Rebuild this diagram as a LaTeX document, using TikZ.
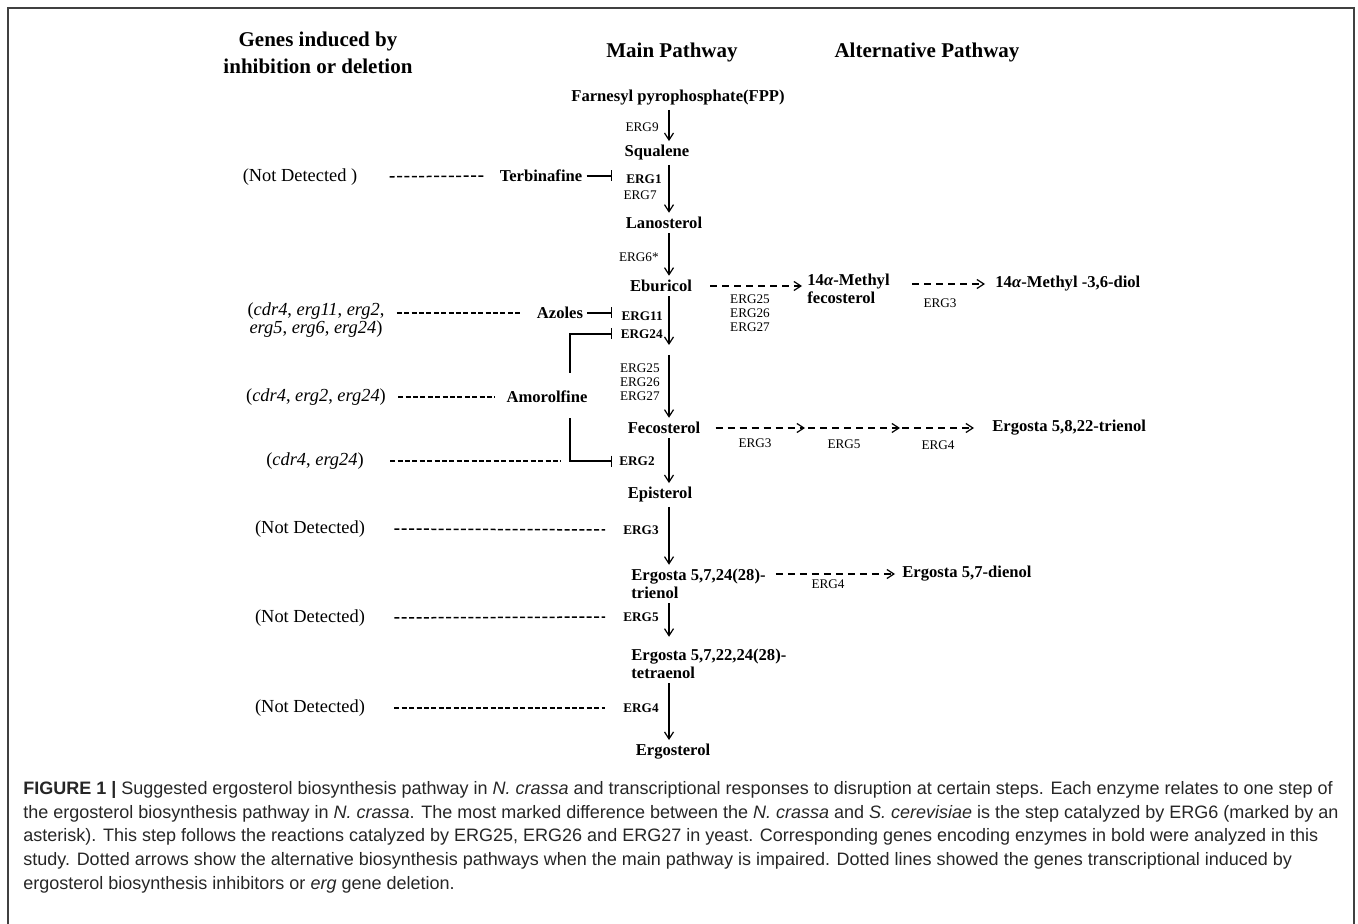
\documentclass[tikz,border=0pt]{standalone}
\usepackage{fontspec}
\setmainfont{Liberation Serif}
\newfontfamily\capfont{Liberation Sans}
\usetikzlibrary{arrows.meta, calc, positioning}

\begin{document}
\begin{tikzpicture}[x=0.5pt, y=-0.5pt,
  head/.style={font=\bfseries\fontsize{10.5}{13.5}\selectfont, align=center},
  mol/.style={font=\bfseries\fontsize{8.3}{9}\selectfont, inner sep=2pt, align=left},
  enz/.style={font=\fontsize{6.6}{7}\selectfont, inner sep=1pt, align=center},
  benz/.style={font=\bfseries\fontsize{6.6}{7}\selectfont, inner sep=1pt},
  gene/.style={font=\fontsize{9.2}{9.2}\selectfont, inner sep=2pt, align=center},
  captext/.style={font=\capfont\fontsize{9}{11.85}\selectfont, align=left, inner sep=0pt, text=black!85},
  conv/.style={-{Straight Barb[length=3.5pt, width=4.5pt]}, line width=0.6pt},
  alt/.style={conv, dash pattern=on 3.5pt off 2.5pt},
  inh/.style={-{Bar[width=5.5pt]}, line width=0.6pt},
  dline/.style={line width=0.75pt, dash pattern=on 2.5pt off 1.2pt}]
  \useasboundingbox (0,0) rectangle (1358,924);
  % frame
  \draw[line width=0.9pt, black!75] (8,924) -- (8,8) -- (1354,8) -- (1354,924);
  % headers
  \node[head] (hgenes) at (318,53) {Genes induced by\\inhibition or deletion};
  \node[head] (hmain) at (672,52) {Main Pathway};
  \node[head] (halt) at (927,52) {Alternative Pathway};
  % main pathway
  \coordinate (col) at (669,0);
  \node[mol] (fpp) at (678,98) {Farnesyl pyrophosphate(FPP)};
  \node[mol] (squalene) at (657,153) {Squalene};
  \node[mol] (lanosterol) at (664,223) {Lanosterol};
  \node[mol] (eburicol) at (661,286) {Eburicol};
  \coordinate (gapA) at (669,345);
  \coordinate (gapB) at (669,355);
  \node[mol] (fecosterol) at (664,428) {Fecosterol};
  \node[mol] (episterol) at (660,495) {Episterol};
  \node[mol, anchor=west] (trienol) at (627,584) {Ergosta 5,7,24(28)-\\trienol};
  \node[mol, anchor=west] (tetraenol) at (627,664) {Ergosta 5,7,22,24(28)-\\tetraenol};
  \node[mol] (ergosterol) at (673,752) {Ergosterol};
  \draw[conv] (fpp.south -| col) -- (squalene.north -| col);
  \draw[conv] (squalene.south -| col) -- (lanosterol.north -| col);
  \draw[conv] (lanosterol.south -| col) -- (eburicol.north -| col);
  \draw[conv] (eburicol.south -| col) -- (gapA);
  \draw[conv] (gapB) -- (fecosterol.north -| col);
  \draw[conv] (fecosterol.south -| col) -- (episterol.north -| col);
  \draw[conv] (episterol.south -| col) -- (trienol.north -| col);
  \draw[conv, shorten >=4pt] (trienol.south -| col) -- (tetraenol.north -| col);
  \draw[conv] (tetraenol.south -| col) -- (ergosterol.north -| col);
  % enzymes
  \node[enz, anchor=east] (e9) at (661,127) {ERG9};
  \node[benz, anchor=east] (e1) at (664,179) {ERG1};
  \node[enz, anchor=east] (e7) at (659,195) {ERG7};
  \node[enz, anchor=east] (e6) at (661,257) {ERG6*};
  \node[benz, anchor=east] (e11) at (665,316) {ERG11};
  \node[benz, anchor=east] (e24) at (665,334) {ERG24};
  \node[enz, anchor=east] (e25) at (662,382) {ERG25\\ERG26\\ERG27};
  \node[benz, anchor=east] (e2) at (657,461) {ERG2};
  \node[benz] (e3) at (641,530) {ERG3};
  \node[benz] (e5) at (641,617) {ERG5};
  \node[benz] (e4) at (641,708) {ERG4};
  % inhibitors
  \coordinate (barx) at (612,0);
  \coordinate (brk) at (570,0);
  \node[mol] (terbinafine) at (541,176) {Terbinafine};
  \node[mol] (azoles) at (560,313) {Azoles};
  \node[mol] (amorolfine) at (547,397) {Amorolfine};
  \draw[inh] (terbinafine.east) -- (terbinafine.east -| barx);
  \draw[inh] (azoles.east) -- (azoles.east -| barx);
  \draw[inh] ($(amorolfine.north -| brk)+(0,-14)$) |- (e24.west -| barx);
  \draw[inh] ($(amorolfine.south -| brk)+(0,11)$) |- (e2.west -| barx);
  % induced genes
  \node[gene] (g1) at (300,177) {(Not Detected )};
  \node[gene] (g2) at (316,320) {(\textit{cdr4}, \textit{erg11}, \textit{erg2},\\\textit{erg5}, \textit{erg6}, \textit{erg24})};
  \node[gene] (g3) at (316,397) {(\textit{cdr4}, \textit{erg2}, \textit{erg24})};
  \node[gene] (g4) at (315,461) {(\textit{cdr4}, \textit{erg24})};
  \node[gene] (g5) at (310,529) {(Not Detected)};
  \node[gene] (g6) at (310,618) {(Not Detected)};
  \node[gene] (g7) at (310,708) {(Not Detected)};
  \draw[dline, shorten <=14pt, shorten >=6pt] (g1.east) -- (terbinafine.west);
  \draw[dline, shorten <=4pt, shorten >=6.5pt] (g2.east |- azoles.west) -- (azoles.west);
  \draw[dline, shorten <=4pt, shorten >=3.5pt] (g3.east) -- (amorolfine.west);
  \draw[dline, shorten <=11pt, shorten >=4.5pt] (g4.east) -- (g4.east -| brk);
  \draw[dline, shorten <=12.5pt, shorten >=8pt] (g5.east) -- (e3.west);
  \draw[dline, shorten <=12.5pt, shorten >=8pt] (g6.east) -- (e5.west);
  \draw[dline, shorten <=12.5pt, shorten >=8pt] (g7.east) -- (e4.west);
  % alternative pathway
  \node[mol, anchor=west] (methylfeco) at (803,289) {14\textit{α}-Methyl\\fecosterol};
  \node[mol, anchor=west] (diol) at (991,284) {14\textit{α}-Methyl -3,6-diol};
  \node[mol, anchor=west] (trienol58) at (988,428) {Ergosta 5,8,22-trienol};
  \node[mol, anchor=west] (dienol) at (898,574) {Ergosta 5,7-dienol};
  \coordinate (f1) at (805,428);
  \coordinate (f2) at (900,428);
  \draw[alt, shorten <=7pt, shorten >=0.5pt] (eburicol.east) -- (eburicol.east -| methylfeco.west);
  \draw[alt, shorten <=9pt, shorten >=3pt] (methylfeco.east |- diol.west) -- (diol.west);
  \draw[alt, shorten <=5.5pt] (fecosterol.east) -- (f1);
  \draw[alt, shorten <=1.5pt] (f1) -- (f2);
  \draw[alt, shorten <=1pt, shorten >=7pt] (f2) -- (trienol58.west);
  \draw[alt, shorten <=3pt, shorten >=1.5pt] (trienol.east |- dienol.west) -- (dienol.west);
  \node[enz] (a25) at (750,313) {ERG25\\ERG26\\ERG27};
  \node[enz] (a3) at (940,303) {ERG3};
  \node[enz] (b3) at (755,443) {ERG3};
  \node[enz] (b5) at (844,444) {ERG5};
  \node[enz] (b4) at (938,445) {ERG4};
  \node[enz] (c4) at (828,584) {ERG4};
  % caption
  \node[captext, anchor=north west] (caption) at (23,781) {\textbf{FIGURE 1 |} Suggested ergosterol biosynthesis pathway in \textit{N. crassa} and transcriptional responses to disruption at certain steps. Each enzyme relates to one step of\\
    the ergosterol biosynthesis pathway in \textit{N. crassa}. The most marked difference between the \textit{N. crassa} and \textit{S. cerevisiae} is the step catalyzed by ERG6 (marked by an\\
    asterisk). This step follows the reactions catalyzed by ERG25, ERG26 and ERG27 in yeast. Corresponding genes encoding enzymes in bold were analyzed in this\\
    study. Dotted arrows show the alternative biosynthesis pathways when the main pathway is impaired. Dotted lines showed the genes transcriptional induced by\\
    ergosterol biosynthesis inhibitors or \textit{erg} gene deletion.};
\end{tikzpicture}
\end{document}
